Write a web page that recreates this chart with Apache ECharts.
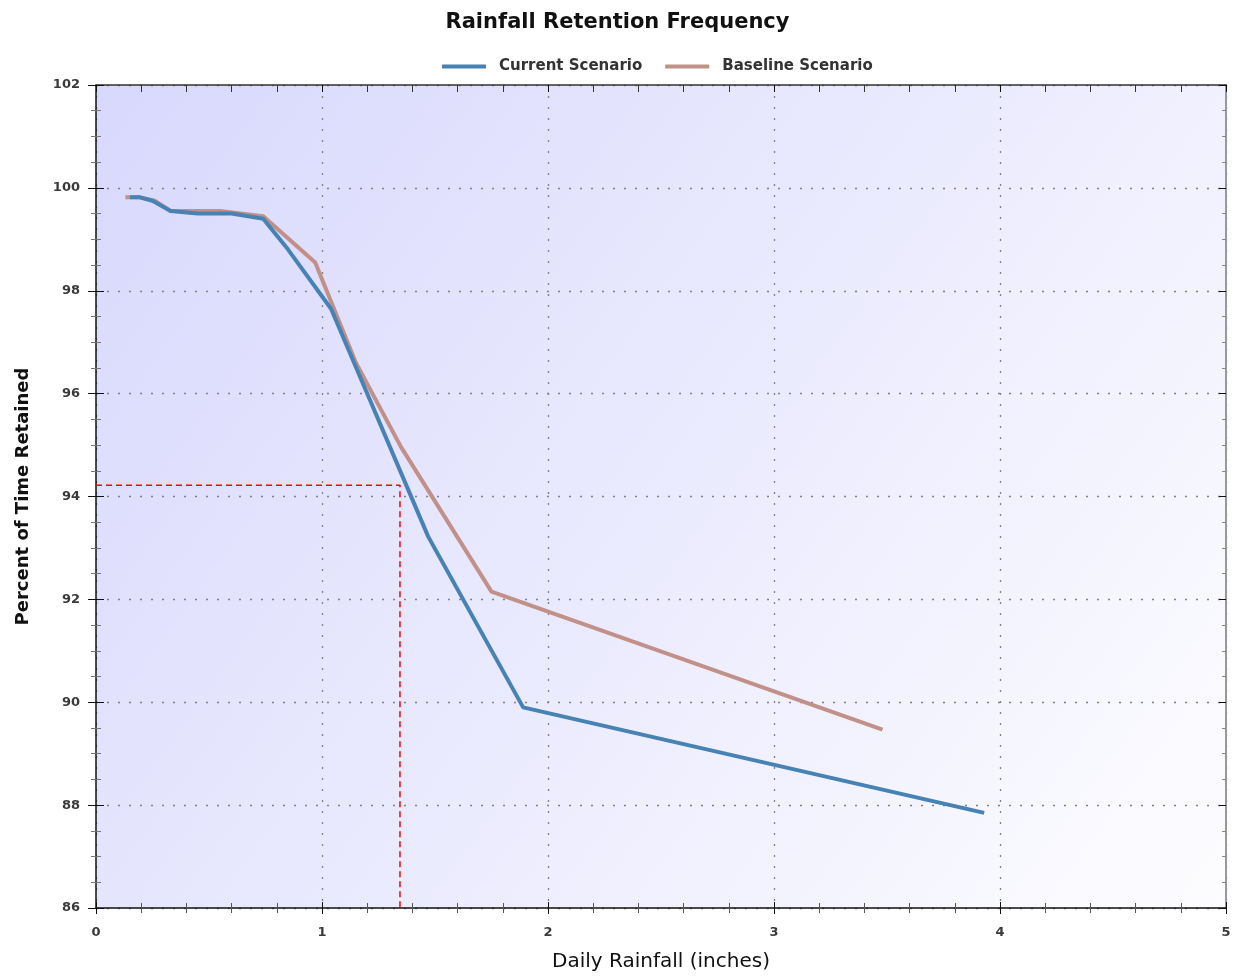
<!DOCTYPE html>
<html>
<head>
<meta charset="utf-8">
<script src="https://cdn.jsdelivr.net/npm/echarts@6/dist/echarts.min.js"></script>
<style>html,body{margin:0;padding:0;background:#fff}#c{width:1235px;height:976px}</style>
</head>
<body>
<div id="c"></div>
<script>
const titleText = 'Rainfall Retention Frequency';
const seriesNames = ['Current Scenario', 'Baseline Scenario'];
const xAxisName = 'Daily Rainfall (inches)';
const yAxisName = 'Percent of Time Retained';
const currentRain = [0.15, 0.19, 0.25, 0.33, 0.45, 0.60, 0.74, 0.85, 1.04, 1.47, 1.89, 3.93];
const currentPct  = [99.82, 99.82, 99.75, 99.55, 99.50, 99.50, 99.40, 98.80, 97.65, 93.22, 89.90, 87.85];
const baselineRain = [0.13, 0.19, 0.26, 0.33, 0.45, 0.55, 0.74, 0.97, 1.15, 1.35, 1.75, 3.48];
const baselinePct  = [99.82, 99.82, 99.75, 99.55, 99.55, 99.55, 99.45, 98.55, 96.60, 94.96, 92.15, 89.47];
const refRain = [0, 1.345, 1.345];
const refPct  = [94.22, 94.22, 86];
const xTicks = {min: 0, max: 5, interval: 1};
const yTicks = {min: 86, max: 102, interval: 2};

const zip = (a, b) => a.map((v, i) => [v, b[i]]);
const chart = echarts.init(document.getElementById('c'));
const font = 'DejaVu Sans';
const tickLabel = {fontFamily: font, fontWeight: 'bold', fontSize: 13, color: '#3a3a3a'};
const dotted = {show: true, lineStyle: {color: '#808080', type: [2, 9], width: 1.3}};
const overlay = (base, extra) => Object.assign({
  type: 'value', axisLabel: {show: false}, splitLine: {show: false}
}, base, extra);
chart.setOption({
  animation: false,
  title: {text: titleText, left: 'center', top: 7,
    textStyle: {fontFamily: font, fontWeight: 'bold', fontSize: 21, color: '#111'}},
  legend: {top: 54, left: 437, data: seriesNames, icon: 'rect', itemWidth: 44, itemHeight: 4, itemGap: 23,
    textStyle: {fontFamily: font, fontWeight: 'bold', fontSize: 15, color: '#333', padding: [0, 0, 0, 8]}},
  grid: {left: 96, right: 9, top: 85, bottom: 68, show: true, borderWidth: 0, outerBoundsMode: 'none',
    backgroundColor: new echarts.graphic.LinearGradient(0, 0, 1, 1, [
      {offset: 0, color: '#d8d8fd'}, {offset: 1, color: '#fdfdff'}])},
  xAxis: [{
    type: 'value', position: 'bottom', min: xTicks.min, max: xTicks.max, interval: xTicks.interval,
    name: xAxisName, nameLocation: 'middle', nameGap: 44,
    nameTextStyle: {fontFamily: font, fontSize: 20, color: '#111'},
    axisLine: {show: true, onZero: false, lineStyle: {color: '#111', width: 1.5}},
    axisTick: {show: true, length: 6, lineStyle: {color: '#111'}},
    minorTick: {show: true, splitNumber: 5, length: 5, lineStyle: {color: '#555'}},
    axisLabel: Object.assign({margin: 18}, tickLabel),
    splitLine: dotted
  }, overlay({position: 'bottom', min: xTicks.min, max: xTicks.max, interval: xTicks.interval}, {
    axisLine: {show: false, onZero: false},
    axisTick: {show: true, inside: true, length: 6, lineStyle: {color: '#111'}},
    minorTick: {show: true, splitNumber: 5, length: 5, lineStyle: {color: '#555'}}
  }), overlay({position: 'top', min: xTicks.min, max: xTicks.max, interval: xTicks.interval}, {
    axisLine: {show: true, onZero: false, lineStyle: {color: '#333', width: 1.5}},
    axisTick: {show: true, inside: true, length: 7, lineStyle: {color: '#111'}},
    minorTick: {show: true, splitNumber: 5, length: 7, lineStyle: {color: '#333'}}
  })],
  yAxis: [{
    type: 'value', position: 'left', min: yTicks.min, max: yTicks.max, interval: yTicks.interval,
    name: yAxisName, nameLocation: 'middle', nameGap: 64,
    nameTextStyle: {fontFamily: font, fontSize: 18, fontWeight: 'bold', color: '#111'},
    axisLine: {show: true, onZero: false, lineStyle: {color: '#111', width: 1.5}},
    axisTick: {show: true, length: 8, lineStyle: {color: '#111'}},
    minorTick: {show: true, splitNumber: 4, length: 5, lineStyle: {color: '#777'}},
    axisLabel: Object.assign({margin: 16}, tickLabel),
    splitLine: dotted
  }, overlay({position: 'right', min: yTicks.min, max: yTicks.max, interval: yTicks.interval}, {
    axisLine: {show: true, onZero: false, lineStyle: {color: '#999', width: 2}},
    axisTick: {show: true, inside: true, length: 7, lineStyle: {color: '#111'}},
    minorTick: {show: true, splitNumber: 4, length: 4, lineStyle: {color: '#888'}}
  }), overlay({position: 'left', min: yTicks.min, max: yTicks.max, interval: yTicks.interval}, {
    axisLine: {show: false, onZero: false},
    axisTick: {show: true, inside: true, length: 8, lineStyle: {color: '#111'}},
    minorTick: {show: true, splitNumber: 4, length: 5, lineStyle: {color: '#777'}}
  })],
  series: [{
    name: seriesNames[0], type: 'line', data: zip(currentRain, currentPct), showSymbol: false, z: 4,
    lineStyle: {color: '#4682b4', width: 4}, itemStyle: {color: '#4682b4'}
  }, {
    name: seriesNames[1], type: 'line', data: zip(baselineRain, baselinePct), showSymbol: false, z: 3,
    lineStyle: {color: '#c09089', width: 4}, itemStyle: {color: '#c09089'}
  }, {
    name: 'ref', type: 'line', data: zip(refRain, refPct), showSymbol: false, z: 2,
    lineStyle: {color: '#ff0000', width: 1.5, type: [6, 4]}, silent: true
  }]
});
</script>
</body>
</html>
